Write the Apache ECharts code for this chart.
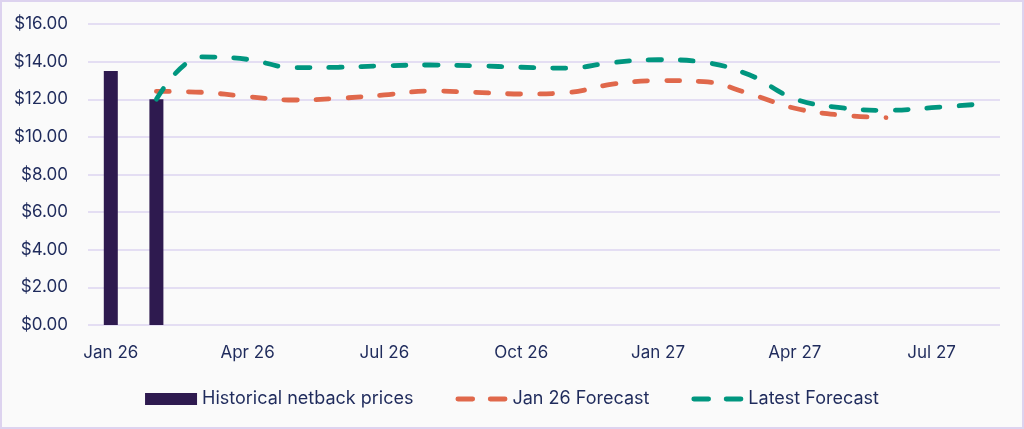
<!DOCTYPE html>
<html>
<head>
<meta charset="utf-8">
<script src="https://cdn.jsdelivr.net/npm/echarts@6/dist/echarts.min.js"></script>
<style>
html,body{margin:0;padding:0;background:#ddd3ef;}
#frame{position:absolute;left:2px;top:2px;width:1020px;height:425px;background:#fafafa;overflow:hidden;}
#c{position:absolute;left:-2px;top:-2px;width:1024px;height:429px;}
</style>
</head>
<body>
<div id="frame"><div id="c"></div></div>
<script>
const categories = ['Jan 26','Feb 26','Mar 26','Apr 26','May 26','Jun 26','Jul 26','Aug 26','Sep 26','Oct 26','Nov 26','Dec 26','Jan 27','Feb 27','Mar 27','Apr 27','May 27','Jun 27','Jul 27','Aug 27'];
const historical = [13.5, 12.0, null, null, null, null, null, null, null, null, null, null, null, null, null, null, null, null, null, null];
const jan26Forecast = [null, 12.42, 12.37, 12.14, 11.96, 12.05, 12.23, 12.44, 12.37, 12.28, 12.35, 12.8, 12.99, 12.94, 12.3, 11.52, 11.16, 11.02, null, null];
const latestForecast = [null, 12.0, 14.25, 14.12, 13.68, 13.7, 13.78, 13.82, 13.78, 13.7, 13.65, 13.95, 14.1, 13.97, 13.3, 12.02, 11.55, 11.41, 11.55, 11.73];
const yTicks = { min: 0, max: 16, interval: 2 };

const textColor = '#1f2b5c';
const font = 'Inter';
const dashIcon = 'path://M2.5,0 H17.5 A2.5,2.5 0 0 1 17.5,5 H2.5 A2.5,2.5 0 0 1 2.5,0 Z M35.5,0 H50.5 A2.5,2.5 0 0 1 50.5,5 H35.5 A2.5,2.5 0 0 1 35.5,0 Z';
const chart = echarts.init(document.getElementById('c'));
chart.setOption({
  backgroundColor: 'transparent',
  animation: false,
  grid: { left: 88, right: 24, top: 24, bottom: 104, containLabel: false },
  legend: {
    top: 385,
    left: 'center',
    itemWidth: 52,
    itemHeight: 12,
    itemGap: 42,
    symbolKeepAspect: true,
    textStyle: { color: textColor, fontFamily: font, fontSize: 18 },
    data: [
      { name: 'Historical netback prices', icon: 'rect' },
      { name: 'Jan 26 Forecast', icon: dashIcon, itemStyle: { color: '#e0684b', borderWidth: 0 } },
      { name: 'Latest Forecast', icon: dashIcon, itemStyle: { color: '#00967f', borderWidth: 0 } }
    ]
  },
  xAxis: {
    type: 'category',
    data: categories,
    boundaryGap: true,
    axisLine: { show: false },
    axisTick: { show: false },
    axisLabel: {
      interval: 2,
      color: textColor, fontFamily: font, fontSize: 17, margin: 19
    }
  },
  yAxis: {
    type: 'value',
    min: yTicks.min, max: yTicks.max, interval: yTicks.interval,
    axisLine: { show: false },
    axisTick: { show: false },
    splitLine: { lineStyle: { color: '#ddd5f0', width: 1.5 } },
    axisLabel: {
      color: textColor, fontFamily: font, fontSize: 17, margin: 20,
      formatter: v => '$' + v.toFixed(2)
    }
  },
  series: [
    {
      name: 'Historical netback prices',
      type: 'bar',
      data: historical,
      barWidth: 14,
      itemStyle: { color: '#2e1a4f' }
    },
    {
      name: 'Jan 26 Forecast',
      type: 'line',
      data: jan26Forecast,
      smooth: 0.4,
      showSymbol: false,
      symbol: 'none',
      itemStyle: { color: '#e0684b' },
      lineStyle: { color: '#e0684b', width: 4.8, type: [13, 19], cap: 'round' }
    },
    {
      name: 'Latest Forecast',
      type: 'line',
      data: latestForecast,
      smooth: 0.4,
      showSymbol: false,
      symbol: 'none',
      itemStyle: { color: '#00967f' },
      lineStyle: { color: '#00967f', width: 4.8, type: [13, 19], cap: 'round' }
    }
  ]
});
</script>
</body>
</html>
